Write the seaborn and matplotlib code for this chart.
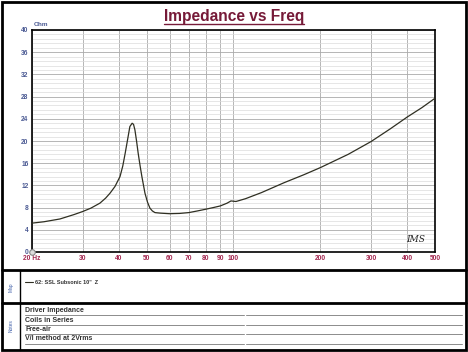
import matplotlib
matplotlib.use("Agg")
import matplotlib.pyplot as plt
import seaborn as sns
import pandas as pd
from matplotlib.ticker import MultipleLocator, NullLocator
from matplotlib.lines import Line2D
from matplotlib.patches import Rectangle

# ---------------- data ----------------
freq_hz = [20, 22, 25, 28, 30, 32, 34.4, 36, 37.3, 38.8, 40.4, 41.3, 42.1, 43.0,
           43.7, 44.5, 45.0, 45.5, 46.1, 46.7, 47.4, 48.1, 49.3, 50.3, 51.3, 52.3,
           53.4, 55.8, 60, 65, 70, 75, 80, 85, 90, 95, 98, 100, 102, 110, 125,
           150, 175, 200, 250, 300, 350, 400, 450, 500]
impedance_ohm = [5.2, 5.45, 5.95, 6.75, 7.3, 7.9, 8.8, 9.7, 10.6, 11.8, 13.6, 15.5,
                 17.8, 20.5, 22.6, 23.2, 23.0, 22.0, 20.0, 17.8, 15.6, 13.6, 10.6,
                 9.0, 7.9, 7.4, 7.1, 7.0, 6.9, 6.95, 7.1, 7.4, 7.7, 8.0, 8.3, 8.8,
                 9.2, 9.15, 9.1, 9.6, 10.7, 12.5, 13.9, 15.2, 17.6, 19.9, 22.2,
                 24.3, 26.0, 27.7]
x_ticks = [20, 30, 40, 50, 60, 70, 80, 90, 100, 200, 300, 400, 500]
x_tick_labels = ["20 Hz", "30", "40", "50", "60", "70", "80", "90", "100",
                 "200", "300", "400", "500"]
y_ticks = [0, 4, 8, 12, 16, 20, 24, 28, 32, 36, 40]
y_tick_labels = [str(v) for v in y_ticks]
title_text = "Impedance vs Freq"
legend_text = "62: SSL Subsonic 10\"  Z"
notes = ["Driver Impedance", "Coils in Series", "Free-air", "V/I method at 2Vrms"]

# ---------------- style ----------------
sns.set_style("white")
plt.rcParams['font.family'] = ['Liberation Sans', 'DejaVu Sans']

W, H = 468, 352
fig = plt.figure(figsize=(W / 100, H / 100), dpi=100)

def fx(px):
    return px / W

def fy(py):
    return 1 - py / H

ax = fig.add_axes([fx(32), fy(252), fx(435) - fx(32), fy(30) - fy(252)])

df = pd.DataFrame({"Frequency": freq_hz, "Impedance": impedance_ohm})
sns.lineplot(data=df, x="Frequency", y="Impedance", ax=ax, color="#2f2f22",
             linewidth=0.9, sort=True, zorder=5)

ax.set_xscale("log")
ax.set_xlim(20, 500)
ax.set_ylim(0, 40)
ax.set_xticks(x_ticks)
ax.set_xticklabels(x_tick_labels)
ax.xaxis.set_minor_locator(NullLocator())
ax.set_yticks(y_ticks)
ax.set_yticklabels(y_tick_labels)
ax.yaxis.set_minor_locator(MultipleLocator(0.8))
ax.set_xlabel("")
ax.set_ylabel("")

ax.grid(which="major", color="#aaaaaa", linewidth=0.6)
ax.grid(which="minor", axis="y", color="#dcdcdc", linewidth=0.5)
ax.set_axisbelow(True)
ax.tick_params(axis="both", which="both", length=0)
ax.tick_params(axis="x", pad=2.5, labelsize=4.8, labelcolor="#a3264f")
ax.tick_params(axis="y", pad=2.5, labelsize=4.8, labelcolor="#4c5b94")
for lab in ax.get_xticklabels() + ax.get_yticklabels():
    lab.set_fontweight("bold")
for s in ax.spines.values():
    s.set_visible(True)
    s.set_color("black")
    s.set_linewidth(1.2)

# "Ohm" unit label
ax.text(0.005, 1.012, "Ohm", transform=ax.transAxes, fontsize=4.6,
        fontweight="bold", color="#4c5b94", ha="left", va="bottom")

# corner icon
ax.plot([0], [0], marker="o", markersize=4, markerfacecolor="#dddddd",
        markeredgecolor="#888888", markeredgewidth=0.8, transform=ax.transAxes,
        clip_on=False, zorder=10)

# IMS mark
ax.text(0.975, 0.035, "IMS", transform=ax.transAxes, fontsize=6.5,
        fontstyle="italic", color="#222222", ha="right", va="bottom",
        family=["DejaVu Serif"])

# Title
t = fig.text(fx(234), fy(16), title_text, fontsize=11.2, fontweight="bold",
             color="#761a38", ha="center", va="center")
fig.canvas.draw()
bb = t.get_window_extent()
fig.add_artist(Line2D([bb.x0 / W, bb.x1 / W], [fy(24), fy(24)],
                      transform=fig.transFigure, color="#761a38", lw=1.0))

# ---------------- panel frames ----------------
fig.add_artist(Rectangle((fx(1.5), fy(350)), fx(466) - fx(1.5), fy(1.5) - fy(350),
                         transform=fig.transFigure, fill=False, lw=2.0, ec="black"))
for yy in (270, 303):
    fig.add_artist(Line2D([fx(1.5), fx(466)], [fy(yy), fy(yy)],
                          transform=fig.transFigure, color="black", lw=2.0))
fig.add_artist(Line2D([fx(20), fx(20)], [fy(270), fy(350)],
                      transform=fig.transFigure, color="black", lw=1.0))

fig.text(fx(11), fy(287), "Map", rotation=90, fontsize=3.5, color="#3f5fa8",
         ha="center", va="center")
fig.text(fx(11), fy(326), "Notes", rotation=90, fontsize=3.5, color="#3f5fa8",
         ha="center", va="center")

# legend entry
fig.add_artist(Line2D([fx(25), fx(33)], [fy(282), fy(282)],
                      transform=fig.transFigure, color="#2f2f22", lw=0.8))
fig.text(fx(35), fy(282), legend_text, fontsize=4.0, fontweight="bold",
         color="#333333", ha="left", va="center")

# notes
note_lines_y = [315, 324.5, 334, 343.5]
for txt, yy in zip(notes, note_lines_y):
    fig.text(fx(25), fy(yy - 1), txt, fontsize=5.0, fontweight="bold",
             color="#333333", ha="left", va="bottom")
    fig.add_artist(Line2D([fx(25), fx(244)], [fy(yy), fy(yy)],
                          transform=fig.transFigure, color="#8c8c8c", lw=0.7))
    fig.add_artist(Line2D([fx(246), fx(462)], [fy(yy), fy(yy)],
                          transform=fig.transFigure, color="#8c8c8c", lw=0.7))

fig.savefig("out.png", dpi=100)
